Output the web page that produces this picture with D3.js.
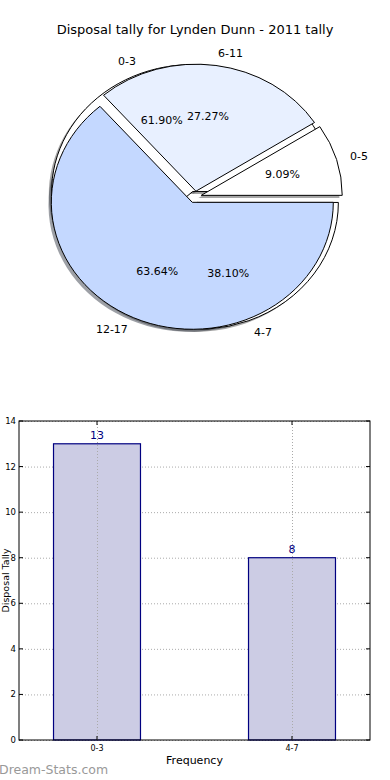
<!DOCTYPE html>
<html>
<head>
<meta charset="utf-8">
<script src="https://cdn.jsdelivr.net/npm/d3@7"></script>
<style>
  body { margin: 0; background: #fff; }
  svg { display: block; font-family: "DejaVu Sans", sans-serif; }
</style>
</head>
<body>
<div id="chart"></div>
<script>
// pie data (two pies drawn on the same spot)
const ageLabels = ["0-5", "6-11", "12-17"];
const ageValues = [1, 3, 7];
const gameLabels = ["0-3", "4-7"];
const gameValues = [13, 8];

// bar data
const barCats = ["0-3", "4-7"];
const barValues = [13, 8];
const yTicks = [0, 2, 4, 6, 8, 10, 12, 14];

const width = 390, height = 780;

const svg = d3.select("#chart")
    .append("svg")
    .attr("width", width)
    .attr("height", height);

svg.append("text")
    .attr("x", 195)
    .attr("y", 34)
    .attr("text-anchor", "middle")
    .style("font-size", "13px")
    .text("Disposal tally for Lynden Dunn - 2011 tally");

// ---------- pie ----------
const cx = 195, cy = 197, rx = 141, ry = 127;
const explode = 0.046;

// matplotlib style: counter-clockwise from 3 o'clock
const pie = d3.pie().sort(null).startAngle(Math.PI / 2).endAngle(Math.PI / 2 - 2 * Math.PI);
const arc = d3.arc().innerRadius(0).outerRadius(1);

const ageColors = ["#ffffff", "#e8f0ff", "#c4d8ff"];
const gameColors = ["#ffffff", "#ffffff"];

function prep(values, labels, colors) {
  const total = d3.sum(values);
  return pie(values).map((d, i) => {
    const m = (d.startAngle + d.endAngle) / 2;
    return {
      arc: d,
      label: labels[i],
      pct: (values[i] / total * 100).toFixed(2) + "%",
      color: colors[i],
      ux: Math.sin(m),
      uy: -Math.cos(m)
    };
  });
}

const gamePie = prep(gameValues, gameLabels, gameColors);
const agePie = prep(ageValues, ageLabels, ageColors);
const allWedges = gamePie.concat(agePie);

const pieG = svg.append("g")
    .attr("transform", `translate(${cx},${cy}) scale(${rx},${ry})`);

// shadows under everything
pieG.selectAll("path.shadow")
    .data(allWedges)
    .enter()
    .append("path")
    .attr("class", "shadow")
    .attr("d", d => arc(d.arc))
    .attr("transform", d => `translate(${d.ux * explode - 0.02},${d.uy * explode + 0.02})`)
    .attr("fill", d => {
      const c = d3.rgb(d.color);
      return d3.rgb(c.r * 0.3, c.g * 0.3, c.b * 0.3);
    })
    .attr("fill-opacity", 0.5);

pieG.selectAll("path.wedge")
    .data(allWedges)
    .enter()
    .append("path")
    .attr("class", "wedge")
    .attr("d", d => arc(d.arc))
    .attr("transform", d => `translate(${d.ux * explode},${d.uy * explode})`)
    .attr("fill", d => d.color)
    .attr("stroke", "#000")
    .attr("stroke-width", 1)
    .attr("vector-effect", "non-scaling-stroke");

// labels
allWedges.forEach(d => {
  const lx = cx + (1.1 + explode) * rx * d.ux;
  const ly = cy + (1.1 + explode) * ry * d.uy;
  svg.append("text")
      .attr("x", lx)
      .attr("y", ly)
      .attr("dy", "0.35em")
      .attr("text-anchor", d.ux > 0 ? "start" : "end")
      .style("font-size", "11px")
      .text(d.label);

  svg.append("text")
      .attr("x", cx + (0.6 + explode) * rx * d.ux)
      .attr("y", cy + (0.6 + explode) * ry * d.uy)
      .attr("dy", "0.35em")
      .attr("text-anchor", "middle")
      .style("font-size", "11px")
      .text(d.pct);
});

// ---------- bar chart ----------
const margin = {top: 421, bottom: 740, left: 19, right: 370};

const x = d3.scaleLinear()
    .domain([-0.4, 1.4])
    .range([margin.left, margin.right]);

const y = d3.scaleLinear()
    .domain([0, 14])
    .range([margin.bottom, margin.top]);

const barW = 0.446;

// grid
svg.append("g")
    .selectAll("line")
    .data(yTicks)
    .enter()
    .append("line")
    .attr("x1", margin.left)
    .attr("x2", margin.right)
    .attr("y1", d => y(d) + 0.5)
    .attr("y2", d => y(d) + 0.5)
    .attr("stroke", "#aaa")
    .attr("stroke-dasharray", "1,2");

svg.append("g")
    .selectAll("rect")
    .data(barValues)
    .enter()
    .append("rect")
    .attr("x", (d, i) => x(i - barW / 2))
    .attr("y", d => y(d))
    .attr("width", x(barW) - x(0))
    .attr("height", d => y(0) - y(d))
    .attr("fill", "#ccccE4")
    .attr("stroke", "#000080")
    .attr("stroke-width", 1.2);

svg.append("g")
    .selectAll("line")
    .data(barCats)
    .enter()
    .append("line")
    .attr("x1", (d, i) => Math.round(x(i)) + 0.5)
    .attr("x2", (d, i) => Math.round(x(i)) + 0.5)
    .attr("y1", margin.top)
    .attr("y2", margin.bottom)
    .attr("stroke", "#aaa")
    .attr("stroke-dasharray", "1,2");

// value labels
svg.append("g")
    .selectAll("text")
    .data(barValues)
    .enter()
    .append("text")
    .attr("x", (d, i) => x(i))
    .attr("y", d => y(d) - 5)
    .attr("text-anchor", "middle")
    .attr("fill", "#000080")
    .style("font-size", "11px")
    .text(d => d);

// frame
svg.append("rect")
    .attr("x", margin.left)
    .attr("y", margin.top)
    .attr("width", margin.right - margin.left)
    .attr("height", margin.bottom - margin.top)
    .attr("fill", "none")
    .attr("stroke", "#000")
    .attr("stroke-width", 1);

// y ticks (inward, both sides)
const yAxisG = svg.append("g");
yTicks.forEach(t => {
  yAxisG.append("line")
      .attr("x1", margin.left).attr("x2", margin.left + 4)
      .attr("y1", y(t)).attr("y2", y(t))
      .attr("stroke", "#000");
  yAxisG.append("line")
      .attr("x1", margin.right - 4).attr("x2", margin.right)
      .attr("y1", y(t)).attr("y2", y(t))
      .attr("stroke", "#000");
  yAxisG.append("text")
      .attr("x", margin.left - 3)
      .attr("y", y(t))
      .attr("dy", "0.35em")
      .attr("text-anchor", "end")
      .style("font-size", "8.5px")
      .text(t);
});

// x ticks
barCats.forEach((c, i) => {
  svg.append("line")
      .attr("x1", x(i)).attr("x2", x(i))
      .attr("y1", margin.bottom).attr("y2", margin.bottom - 4)
      .attr("stroke", "#000");
  svg.append("line")
      .attr("x1", x(i)).attr("x2", x(i))
      .attr("y1", margin.top).attr("y2", margin.top + 4)
      .attr("stroke", "#000");
  svg.append("text")
      .attr("x", x(i))
      .attr("y", margin.bottom + 11)
      .attr("text-anchor", "middle")
      .style("font-size", "8px")
      .text(c);
});

// axis labels
svg.append("text")
    .attr("x", (margin.left + margin.right) / 2)
    .attr("y", 764)
    .attr("text-anchor", "middle")
    .style("font-size", "11px")
    .text("Frequency");

svg.append("text")
    .attr("transform", `translate(9,${(margin.top + margin.bottom) / 2}) rotate(-90)`)
    .attr("text-anchor", "middle")
    .style("font-size", "9.5px")
    .text("Disposal Tally");

// watermark
svg.append("text")
    .attr("x", -1)
    .attr("y", 774)
    .attr("fill", "#999")
    .style("font-size", "12.5px")
    .text("Dream-Stats.com");
</script>
</body>
</html>
